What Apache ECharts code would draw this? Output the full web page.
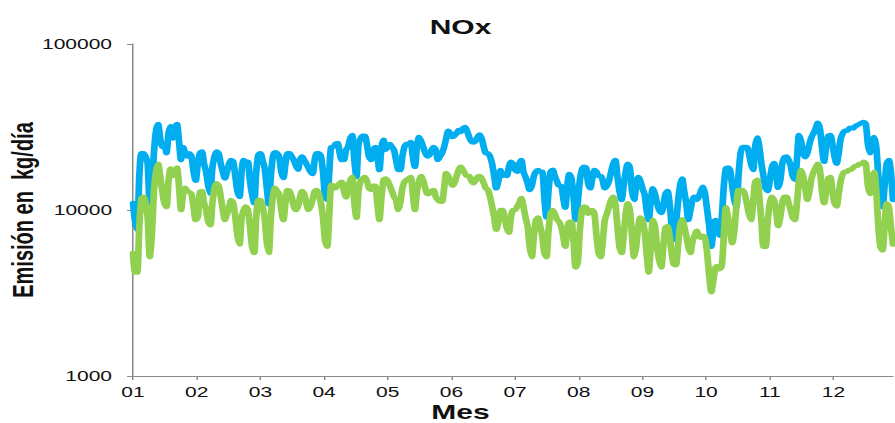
<!DOCTYPE html>
<html>
<head>
<meta charset="utf-8">
<script src="https://cdn.jsdelivr.net/npm/echarts@6/dist/echarts.min.js"></script>
<style>
  html, body { margin: 0; padding: 0; background: #fff; overflow: hidden; }
  #wrap { width: 895px; height: 423px; overflow: hidden; }
  /* the figure is drawn narrow and widened 1.5x, the way the original sheet was exported */
  #chart { width: 597px; height: 423px; transform: scaleX(1.5); transform-origin: 0 0; }
</style>
</head>
<body>
<div id="wrap"><div id="chart"></div></div>
<script>
// Daily NOx emission (kg/día), day 0 = 1 January; rows are weeks (Fri..Thu)
const serieAzul = [
  11000, 8500, 7600, 16000, 22000, 22000, 21000,
  19000, 11000, 13000, 22000, 30000, 33000, 27000,
  24000, 25000, 22000, 29000, 32000, 27000, 31000,
  33000, 26000, 20000, 24000, 22000, 21000, 22000,
  21000, 17000, 15000, 19000, 22000, 22500, 19000,
  17000, 14000, 12500, 18000, 21000, 22500, 22000,
  19000, 17000, 15500, 17000, 19000, 20000, 19500,
  16000, 13000, 12000, 17000, 20000, 19500, 19500,
  15000, 12500, 11000, 17000, 21500, 22000, 20000,
  18000, 14000, 10800, 16000, 21000, 22300, 22000,
  21000, 17000, 15600, 19000, 22000, 22000, 21000,
  20000, 18500, 17500, 20000, 21000, 20000, 19000,
  18000, 17000, 16500, 20000, 22000, 22000, 21000,
  17000, 12000, 11500, 17000, 24000, 24000, 25000,
  25300, 22000, 20000, 20000, 23000, 24000, 27000,
  28300, 20000, 15800, 25000, 27000, 28000, 28000,
  25000, 21000, 20000, 23000, 24000, 21000, 17400,
  24000, 26500, 23000, 24000, 25000, 24000, 23000,
  20000, 17500, 17400, 21000, 24000, 25000, 25000,
  25700, 21000, 18200, 24000, 27500, 26000, 24000,
  22000, 21000, 21500, 23000, 24000, 23000, 20000,
  21000, 22000, 24000, 27000, 30000, 29000, 27500,
  28000, 29000, 30300, 29500, 31000, 31600, 30000,
  27500, 26000, 25500, 26000, 27500, 28500, 27000,
  24000, 22000, 22000, 21000, 19000, 16000, 13500,
  15000, 17400, 16000, 16500, 16000, 18000, 19500,
  19000, 17400, 17000, 19000, 20000, 17000, 15800,
  14500, 13200, 14000, 16000, 17000, 17400, 17000,
  17000, 12000, 9000, 13000, 17000, 17500, 16000,
  15000, 14000, 14000, 12000, 10300, 14000, 16500,
  15500, 12000, 8700, 11000, 15000, 17500, 18200,
  18000, 14500, 13500, 15500, 17400, 17000, 16000,
  16000, 15000, 13500, 14000, 15000, 17000, 19000,
  20000, 16000, 13000, 11500, 14000, 17000, 19000,
  18000, 13000, 11500, 14000, 15800, 15000, 13500,
  12500, 10000, 8700, 11500, 13500, 12500, 11000,
  10000, 9600, 10500, 12500, 13000, 11000, 8000,
  6600, 8000, 11000, 14000, 15500, 13000, 11000,
  8700, 10000, 11500, 12000, 11500, 12000, 13000,
  13800, 12500, 10000, 8000, 6000, 7500, 8700,
  7800, 7000, 9000, 14000, 17800, 18000, 17400,
  14000, 11500, 10400, 16000, 22000, 24000, 24000,
  24000, 22000, 19000, 17400, 24000, 27300, 24000,
  19000, 16000, 13500, 13000, 15000, 18000, 19200,
  17000, 13600, 15000, 19000, 20800, 21000, 20000,
  18500, 16000, 15200, 20000, 28300, 26000, 22000,
  20800, 22000, 25000, 27500, 29000, 31000, 33500,
  31000, 24000, 19500, 24000, 28000, 28300, 25000,
  21000, 19000, 22000, 27000, 29000, 30000, 30000,
  31000, 31300, 31000, 32000, 32500, 33000, 33500,
  33900, 33000, 25000, 22000, 26000, 27500, 24000,
  16000, 11500, 10400, 14000, 19000, 20000, 17000,
  11500
];

const serieVerde = [
  5500, 4200, 4200, 8000, 11800, 12000, 11000,
  9000, 5200, 7000, 13000, 17000, 19000, 16000,
  13000, 11000, 10400, 15000, 17800, 16000, 17000,
  18000, 14000, 10000, 12500, 13600, 13000, 12800,
  12500, 10500, 8700, 9000, 12800, 13000, 11000,
  10000, 8500, 8100, 11000, 13500, 14500, 14000,
  12000, 10000, 8700, 9500, 10400, 11500, 11000,
  9000, 7000, 6200, 9000, 10000, 10500, 10000,
  8000, 6000, 5500, 9000, 11500, 11500, 10500,
  9000, 6500, 5500, 9000, 12000, 13600, 13000,
  12500, 10000, 8700, 11000, 13200, 13000, 12000,
  10500, 10000, 10500, 12000, 13000, 12500, 11000,
  10000, 10500, 11500, 13000, 13200, 12500, 11000,
  9000, 6500, 6000, 9500, 14200, 14000, 13500,
  14000, 14500, 14800, 13000, 11900, 13500, 15000,
  15800, 11000, 8950, 13000, 15000, 15500, 15800,
  15000, 13500, 13200, 14000, 14000, 11000, 8700,
  12000, 15200, 15500, 15000, 14000, 13000, 12000,
  11500, 10000, 11000, 13500, 14800, 15200, 15500,
  15800, 12500, 10000, 13000, 15000, 16000, 15000,
  13500, 12500, 12500, 13000, 13200, 12000, 11500,
  11200, 11200, 13500, 16700, 16000, 15000, 14000,
  14500, 16000, 17500, 18200, 17500, 16500, 16000,
  16000, 15000, 14500, 15000, 15800, 16000, 15500,
  14500, 13500, 13200, 12000, 10500, 9000, 7600,
  8500, 10000, 10000, 9000, 7800, 7300, 9000,
  10000, 10000, 10500, 11000, 11800, 10500, 9000,
  8000, 6000, 5200, 7000, 8700, 9000, 8000,
  7000, 5500, 5200, 7500, 9500, 10000, 9500,
  8800, 8500, 8000, 7000, 6000, 7500, 8500,
  8500, 6500, 4500, 4800, 7500, 10000, 10500,
  10400, 9500, 9800, 10000, 9500, 7000, 5500,
  5200, 6500, 8700, 9500, 10500, 11500, 12000,
  11000, 8000, 6000, 5500, 7000, 9500, 11000,
  10000, 7000, 5200, 6000, 8000, 9000, 8700,
  7500, 5500, 4200, 6000, 8700, 8000, 6000,
  5000, 4500, 6000, 7800, 8000, 7000, 5500,
  4700, 4650, 6000, 8000, 8800, 8000, 7000,
  6000, 5500, 6500, 7000, 7500, 7000, 6800,
  7000, 6800, 5500, 4000, 3200, 3800, 4500,
  4600, 4400, 4600, 7000, 10400, 9000, 7500,
  6300, 7500, 10500, 13200, 13000, 13200, 12500,
  11000, 9500, 8700, 11000, 14800, 15200, 12000,
  8500, 6000, 6000, 8500, 11000, 12000, 11500,
  10000, 8000, 9000, 11000, 12000, 12000, 11000,
  10000, 9000, 8700, 11000, 15000, 17400, 16000,
  13500, 11500, 13000, 15500, 17000, 18000, 19000,
  17500, 13000, 11000, 13000, 15500, 15800, 13000,
  11000, 10500, 12500, 15000, 16500, 17000, 17000,
  17500, 17500, 18000, 18500, 18500, 19000, 19000,
  19500, 19000, 14000, 12500, 15500, 17000, 13000,
  8000, 6000, 5700, 8000, 11000, 10500, 8000,
  6200
];

// month labels placed every 30.5 days along the day axis
const meses = ['01', '02', '03', '04', '05', '06', '07', '08', '09', '10', '11', '12'];
const pasoMes = 30.5;
const ticksY = [1000, 10000, 100000];

const chart = echarts.init(document.getElementById('chart'), null, { renderer: 'svg' });

const fuente = 'Liberation Sans, Arial, sans-serif';

chart.setOption({
  animation: false,
  backgroundColor: '#ffffff',
  title: [
    { text: 'NOx', left: 302, top: 12, textAlign: 'center',
      textStyle: { fontFamily: fuente, fontSize: 20, fontWeight: 'bold', color: '#111' } },
    { text: 'Mes', left: 302, top: 397, textAlign: 'center',
      textStyle: { fontFamily: fuente, fontSize: 20, fontWeight: 'bold', color: '#111' } }
  ],
  grid: { left: 88.7, right: 1.7, top: 44, bottom: 47, containLabel: false, outerBoundsMode: 'none' },
  xAxis: {
    type: 'value',
    min: 0,
    max: serieAzul.length - 1,
    interval: pasoMes,
    splitLine: { show: false },
    axisLine: { show: true, lineStyle: { color: '#8a8a8a', width: 1 } },
    axisTick: { show: true, length: 4, lineStyle: { color: '#8a8a8a' } },
    axisLabel: {
      margin: 9,
      showMaxLabel: false,
      fontFamily: fuente, fontSize: 14, color: '#111',
      formatter: v => meses[Math.round(v / pasoMes)] || ''
    }
  },
  yAxis: {
    type: 'log',
    logBase: 10,
    min: ticksY[0],
    max: ticksY[ticksY.length - 1],
    name: 'Emisión en  kg/día',
    nameLocation: 'middle',
    nameRotate: 90,
    nameGap: 64,
    nameMoveOverlap: false,
    nameTextStyle: { fontFamily: fuente, fontSize: 20, fontWeight: 'bold', color: '#111' },
    splitLine: { show: false },
    minorTick: { show: false },
    axisLine: { show: true, lineStyle: { color: '#8a8a8a', width: 1 } },
    axisTick: { show: true, length: 4, lineStyle: { color: '#8a8a8a' } },
    axisLabel: {
      margin: 14,
      fontFamily: fuente, fontSize: 14, color: '#111',
      formatter: v => String(Math.round(v))
    }
  },
  series: [
    {
      type: 'line',
      data: serieAzul.map((v, i) => [i, v]),
      showSymbol: false,
      smooth: 0.25,
      lineStyle: { color: '#00aeef', width: 4.5, join: 'round', cap: 'round' },
      itemStyle: { color: '#00aeef' }
    },
    {
      type: 'line',
      data: serieVerde.map((v, i) => [i, v]),
      showSymbol: false,
      smooth: 0.25,
      lineStyle: { color: '#92d050', width: 4.5, join: 'round', cap: 'round' },
      itemStyle: { color: '#92d050' }
    }
  ]
});
</script>
</body>
</html>
